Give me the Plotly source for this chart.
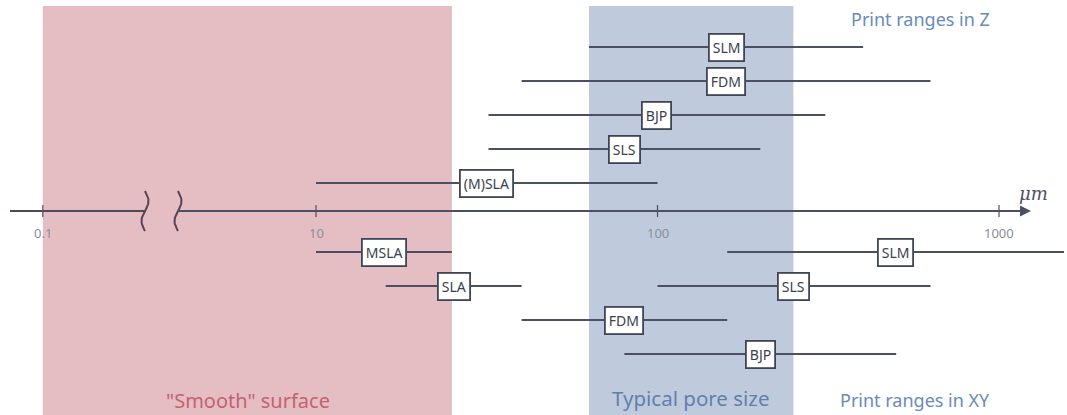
import numpy as np
import plotly.graph_objects as go

# ---------------- data ----------------
z_methods = ["(M)SLA", "SLS", "BJP", "FDM", "SLM"]
z_low = [10, 32, 32, 40, 63]
z_high = [100, 200, 310, 630, 400]

xy_methods = ["MSLA", "SLA", "FDM", "BJP"]
xy_low = [10, 16, 40, 80]
xy_high = [25, 40, 160, 500]
xy2_methods = ["SLM", "SLS"]
xy2_low = [160, 100]
xy2_high = [1550, 630]

tick_vals = [0.1, 10, 100, 1000]
tick_text = ["0.1", "10", "100", "1000"]

smooth_range = [0.1, 25]
pore_range = [63, 250]

# ---------------- layout helpers ----------------
W, H = 1067, 415
DEC = 341.5            # px per decade
U0 = 1 - 316 / DEC     # u at px 0


def u(v):
    """broken log scale: compressed below 10"""
    lv = np.log10(v)
    return lv if v >= 10 else 1 - (1 - lv) * 0.4


def px2u(p):
    return U0 + p / DEC


AX_Y = 211
LINE_C = "#4b5163"
BOX_C = "#3f4555"
FONT = "Noto Sans"

fig = go.Figure()
shapes = []
annos = []

# shaded regions
shapes.append(dict(type="rect", x0=u(smooth_range[0]), x1=u(smooth_range[1]), y0=6, y1=H,
                   fillcolor="#e5bec4", line_width=0, layer="below"))
shapes.append(dict(type="rect", x0=u(pore_range[0]), x1=u(pore_range[1]), y0=6, y1=H,
                   fillcolor="#bfcbdc", line_width=0, layer="below"))

# axis line with break
brk_l, brk_r = px2u(145), px2u(178)
shapes.append(dict(type="line", x0=px2u(10), x1=brk_l, y0=AX_Y, y1=AX_Y,
                   line=dict(color="#4e4a5c", width=2)))
shapes.append(dict(type="line", x0=brk_r, x1=px2u(1020), y0=AX_Y, y1=AX_Y,
                   line=dict(color=LINE_C, width=2)))
annos.append(dict(x=px2u(1031), y=AX_Y, ax=px2u(1010), ay=AX_Y, axref="x", ayref="y",
                  xref="x", yref="y", showarrow=True, arrowhead=2, arrowsize=1.1,
                  arrowwidth=2, arrowcolor=LINE_C, text=""))

# break marks
yy = np.linspace(191, 231, 40)
for cx in (145, 178):
    xx = [px2u(cx + 3.5 * np.sin(np.pi * (y - 191) / 20)) for y in yy]
    fig.add_trace(go.Scatter(x=xx, y=yy, mode="lines", line=dict(color="#5a4356", width=2),
                             hoverinfo="skip", showlegend=False))

# ticks
for v, t in zip(tick_vals, tick_text):
    shapes.append(dict(type="line", x0=u(v), x1=u(v), y0=AX_Y - 6, y1=AX_Y + 6,
                       line=dict(color=LINE_C, width=1.2)))
    annos.append(dict(x=u(v), y=233, text=t, showarrow=False, xref="x", yref="y",
                      font=dict(family=FONT, size=13, color="#8a8e99")))

annos.append(dict(x=px2u(1033), y=193, text="<i>μm</i>", showarrow=False, xref="x", yref="y",
                  font=dict(family="DejaVu Serif", size=18, color="#4b5163")))


def add_range(name, lo, hi, y):
    fig.add_trace(go.Scatter(x=[u(lo), u(hi)], y=[y, y], mode="lines",
                             line=dict(color=LINE_C, width=2), hoverinfo="skip",
                             showlegend=False))
    annos.append(dict(x=(u(lo) + u(hi)) / 2, y=y, text=name, showarrow=False,
                      xref="x", yref="y", bgcolor="white", bordercolor=BOX_C,
                      borderwidth=1.8, borderpad=3,
                      font=dict(family=FONT, size=14, color="#3a4050")))


for i, (n, lo, hi) in enumerate(zip(z_methods, z_low, z_high)):
    add_range(n, lo, hi, 183 - 34 * i)
for i, (n, lo, hi) in enumerate(zip(xy_methods, xy_low, xy_high)):
    add_range(n, lo, hi, 252 + 34 * i)
for i, (n, lo, hi) in enumerate(zip(xy2_methods, xy2_low, xy2_high)):
    add_range(n, lo, hi, 252 + 34 * i)

# captions
captions = [
    ("Print ranges in Z", 920, 19, 18, "#6a8bba"),
    ("Print ranges in XY", 915, 400, 18, "#6a8bba"),
    ("Typical pore size", 691, 398, 20.5, "#5f80ae"),
    ("\"Smooth\" surface", 248, 400, 20, "#c4626e"),
]
for txt, cx, cy, fs, col in captions:
    annos.append(dict(x=cx / W, y=cy, xref="paper", yref="y", text=txt, xanchor="center",
                      yanchor="middle", showarrow=False,
                      font=dict(family=FONT, size=fs, color=col)))

fig.update_layout(
    width=W, height=H, margin=dict(l=0, r=0, t=0, b=0),
    paper_bgcolor="white", plot_bgcolor="white",
    xaxis=dict(range=[U0, U0 + W / DEC], visible=False, fixedrange=True),
    yaxis=dict(range=[H, 0], visible=False, fixedrange=True),
    shapes=shapes, annotations=annos, showlegend=False,
)

fig.write_html("out.html", config={"displayModeBar": False},
               post_script="document.body.style.margin='0';")
